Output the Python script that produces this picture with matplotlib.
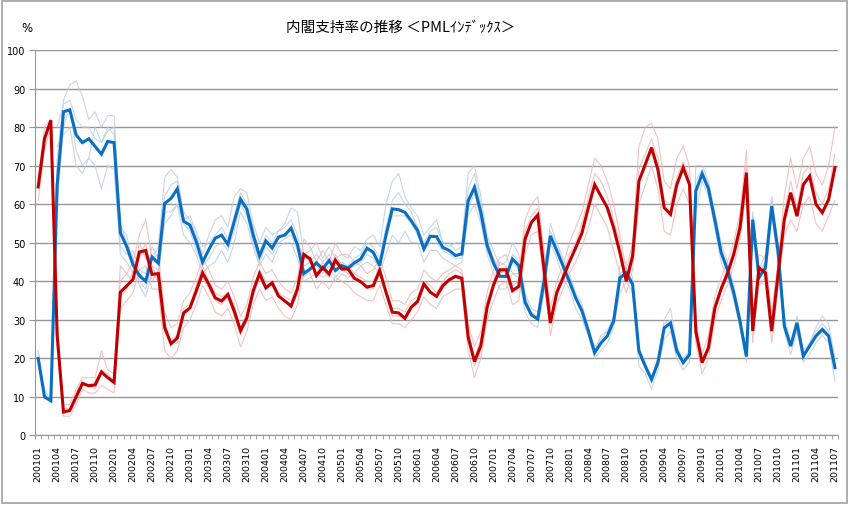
"""
Cabinet approval rating trend (PML index), Jan 2001 - Jul 2011.

Thick lines are the PML index (blue = support, red = non-support),
thin pale lines are the individual polls it is built from.
Saves the chart to out.png.
"""

import numpy as np
import matplotlib
matplotlib.use("Agg")           # headless
import matplotlib.pyplot as plt
from matplotlib.patches import Rectangle

# ---------------------------------------------------------------------------
# Data (monthly, 200101 .. 201107)
# ---------------------------------------------------------------------------

MONTHS = [f"{y}{m:02d}" for y in range(2001, 2012) for m in range(1, 13)][:127]

SUPPORT = [
    20, 10, 9, 65, 84, 84.5, 78, 76, 77, 75, 73, 76.3,
    76, 52.6, 49, 44.3, 41.5, 40, 46.3, 44.7, 60.2, 61.5, 64, 55.6,
    54.6, 50.3, 45, 48.3, 51.2, 52, 49.6, 55.5, 61.3, 58.7, 52, 46.6,
    50.5, 48.6, 51.5, 52, 53.8, 49.5, 42, 43.2, 44.8, 43.2, 45.4, 42.8,
    44.1, 43.4, 44.8, 45.8, 48.6, 47.5, 44.1, 51.9, 58.8, 58.6, 57.9, 55.7,
    53.2, 48.4, 51.7, 51.6, 48.8, 48, 46.7, 47.1, 60.9, 64.4, 57.9, 49.3,
    44.8, 41.3, 41.3, 45.8, 44.1, 34.6, 31.3, 30.2, 40, 51.8, 48, 44,
    40, 35.7, 32.3, 27.1, 21.5, 24, 25.8, 29.7, 40.9, 42.2, 39.2, 21.9,
    18, 14.5, 18.9, 27.9, 29.2, 21.9, 18.9, 21, 63.4, 67.9, 64, 56,
    47.5, 43, 37, 29.5, 20.5, 56, 41, 43.5, 59.5, 47.8, 28.4, 23.2,
    29.2, 20.6, 23.2, 25.8, 27.5, 25.8, 17.6,
]

NON_SUPPORT = [
    64.5, 77, 81.8, 26, 6.1, 6.5, 10, 13.5, 12.9, 13.1, 16.5, 15,
    13.8, 37.2, 38.8, 40.5, 47.6, 48, 41.8, 42, 28, 23.8, 25.3, 31.8,
    33.1, 37.5, 42.2, 39.2, 35.7, 34.9, 36.6, 32.3, 27.2, 30.5, 37.5, 42,
    38.3, 39.6, 36.2, 34.9, 33.6, 38, 47, 45.8, 41.5, 43.6, 41.9, 45.5,
    43.2, 43.2, 40.8, 39.9, 38.5, 38.9, 42.8, 37.2, 32, 31.8, 30.4, 33.3,
    34.8, 39.3, 37.2, 36.1, 38.9, 40.4, 41.3, 40.8, 25.5, 19.2, 23.3, 33.3,
    39, 43, 43, 37.6, 38.7, 51, 55.3, 57.2, 43, 29.2, 37, 40.9,
    45, 48.7, 52.6, 59.1, 65.1, 62.1, 59.1, 53.9, 47.4, 40, 46.5, 66,
    70.3, 74.7, 69, 59.1, 57.4, 65.1, 69.5, 65.1, 27, 18.9, 22.8, 33,
    38, 42, 47, 54, 68.2, 27.1, 43.5, 42.2, 27.1, 41.8, 56, 63,
    56.9, 65.1, 67.3, 60, 57.8, 61.2, 69.5,
]

# individual polls (approximate), None = no survey
POLL_SUPPORT_A = [
    22, 12, 9, 72, 87, 91, 92, 88, 82, 84, 80, 83,
    83, 55, 50, 46, 42, 40, 46, 49, 67, 69, 67, 58,
    56, 52, 47, 52, 56, 57, 54, 62, 64, 63, 55, 50,
    54, 52, 53, 55, 59, 58, 47, 48, 50, 46, 49, 46,
    47, 46, 49, 48, 51, 52, 49, 60, 66, 68, 62, 59,
    57, 52, 54, 56, 50, 49, 50, 50, 68, 70, 62, 52,
    48, 44, 45, 50, 47, 37, 33, 32, 44, 53, 50, 46,
    42, 37, 34, 28, 22, 26, 27, 31, 44, 45, 41, 23,
    19, 15, 20, 30, 33, 23, 20, 22, 70, 70, 66, 58,
    50, 45, 39, 31, 21, 58, 43, 47, 62, 50, 31, 24,
    31, 22, 24, 28, 31, 29, 20,
]
POLL_SUPPORT_B = [
    None, None, None, 60, 80, 85, 74, 70, 72, 70, 64, 70,
    69, 47, 45, 42, 39, 36, 42, 40, 58, 58, 60, 52,
    50, 47, 42, 44, 45, 48, 45, 50, 58, 55, 49, 44,
    47, 45, 49, 50, 50, 46, 40, 41, 42, 41, 42, 40,
    42, 41, 42, 44, 45, 44, 42, 47, 52, 50, 53, 50,
    50, 45, 48, 48, 46, 45, 44, 45, 57, 60, 55, 47,
    42, 38, 38, 42, 41, 32, 29, 28, 37, 50, 46, 41,
    38, 33, 30, 26, 20, 22, 24, 28, 37, 40, 37, 18,
    16, 12, 17, 25, 27, 20, 17, 19, 58, 66, 62, 54,
    45, 41, 35, 28, 19, 53, 39, 41, 57, 45, 27, 21,
    27, 19, 21, 24, 26, 24, 14,
]
POLL_SUPPORT_C = [
    None, None, None, 80, 86, 87, 82, 80, 80, 77, 76, 80,
    78, 49, 47, 48, 43, 42, 49, 46, 62, 65, 66, 56,
    57, 53, 49, 50, 52, 54, 51, 57, 63, 60, 54, 47,
    52, 50, 53, 54, 56, 52, 44, 45, 47, 45, 47, 44,
    45, 44, 46, 47, 50, 49, 46, 54, 61, 63, 60, 58,
    54, 50, 53, 54, 50, 50, 48, 49, 64, 68, 60, 51,
    46, 43, 42, 47, 45, 36, 32, 31, 41, 55, 50, 45,
    41, 36, 33, 28, 23, 25, 27, 30, 42, 43, 40, 22,
    18, 15, 19, 29, 30, 23, 19, 22, 66, 69, 65, 57,
    48, 44, 38, 30, 22, 57, 42, 45, 61, 49, 29, 24,
    30, 21, 24, 27, 29, 27, 18,
]
POLL_SUPPORT_D = [
    None, None, None, 75, 78, 80, 70, 68, 72, 80, 76, 79,
    80, 54, 52, 44, 40, 38, 44, 43, 55, 57, 60, 55,
    53, 48, 44, 46, 49, 50, 48, 53, 60, 57, 50, 45,
    49, 47, 50, 51, 52, 48, 41, 43, 44, 42, 44, 41,
    43, 43, 44, 45, 47, 46, 43, 52, 57, 57, 57, 55,
    52, 48, 50, 50, 48, 47, 46, 46, 59, 63, 56, 48,
    44, 41, 41, 45, 43, 34, 31, 30, 39, 52, 48, 44,
    40, 36, 32, 27, 22, 24, 26, 30, 41, 42, 40, 22,
    18, 14, 19, 28, 29, 22, 19, 21, 64, 68, 64, 56,
    47, 43, 37, 30, 21, 56, 41, 44, 59, 48, 29, 23,
    29, 21, 23, 26, 28, 26, 18,
]

POLL_NON_SUPPORT_A = [
    66, 80, 82, 28, 8, 8, 12, 15, 15, 15, 22, 17,
    16, 44, 42, 45, 52, 56, 46, 47, 32, 28, 29, 35,
    37, 41, 46, 43, 39, 38, 40, 36, 31, 34, 41, 45,
    42, 43, 40, 38, 37, 41, 51, 49, 45, 48, 45, 50,
    47, 47, 45, 44, 42, 43, 46, 41, 35, 35, 34, 37,
    38, 43, 41, 40, 42, 43, 44, 43, 29, 23, 27, 37,
    43, 46, 47, 42, 42, 56, 60, 62, 48, 33, 40, 44,
    50, 54, 58, 65, 72, 70, 66, 60, 52, 43, 50, 75,
    80, 81, 77, 66, 64, 72, 75, 70, 30, 21, 26, 36,
    41, 45, 50, 58, 74, 30, 47, 46, 32, 45, 62, 72,
    64, 72, 75, 68, 65, 70, 80,
]
POLL_NON_SUPPORT_B = [
    61, 74, 80, 24, 5, 5, 8, 12, 11, 11, 13, 12,
    11, 33, 35, 37, 43, 44, 38, 38, 22, 20, 22, 28,
    30, 34, 39, 36, 32, 31, 33, 29, 23, 27, 34, 38,
    35, 36, 33, 31, 30, 34, 43, 42, 38, 40, 38, 41,
    40, 39, 37, 36, 35, 35, 39, 34, 29, 29, 28, 30,
    32, 36, 34, 33, 36, 37, 38, 38, 22, 15, 20, 30,
    35, 39, 40, 34, 35, 47, 52, 53, 40, 26, 34, 38,
    42, 45, 49, 54, 60, 57, 54, 48, 42, 37, 43, 60,
    65, 70, 64, 53, 52, 60, 64, 60, 24, 16, 20, 30,
    35, 39, 44, 51, 64, 24, 40, 39, 24, 38, 52, 56,
    53, 60, 62, 55, 53, 57, 61,
]
POLL_NON_SUPPORT_C = [
    None, None, None, 30, 7, 7, 11, 14, 13, 14, 17, 16,
    14, 40, 42, 40, 50, 46, 44, 40, 27, 25, 26, 33,
    34, 39, 44, 40, 37, 36, 37, 34, 28, 32, 38, 43,
    40, 40, 37, 36, 35, 39, 46, 46, 42, 45, 42, 47,
    44, 44, 42, 41, 40, 40, 44, 38, 33, 33, 32, 35,
    36, 40, 39, 37, 40, 42, 43, 42, 27, 20, 25, 35,
    40, 45, 44, 39, 40, 53, 57, 59, 45, 30, 38, 42,
    47, 50, 55, 62, 68, 66, 62, 56, 50, 41, 48, 69,
    73, 77, 72, 61, 60, 67, 71, 67, 28, 20, 23, 34,
    39, 43, 48, 56, 70, 28, 44, 44, 28, 43, 58, 66,
    59, 68, 70, 63, 60, 64, 73,
]
POLL_NON_SUPPORT_D = [
    None, None, None, 25, 6, 6, 10, 13, 13, 12, 16, 15,
    13, 36, 38, 43, 46, 50, 40, 43, 30, 24, 24, 31,
    33, 37, 41, 38, 35, 34, 36, 31, 26, 30, 36, 41,
    38, 39, 36, 35, 33, 37, 47, 45, 41, 43, 41, 45,
    43, 42, 40, 40, 38, 38, 42, 37, 31, 31, 30, 33,
    34, 39, 37, 36, 38, 40, 41, 40, 25, 18, 22, 33,
    39, 42, 43, 37, 38, 50, 55, 57, 43, 29, 37, 40,
    45, 48, 52, 59, 65, 62, 59, 54, 47, 40, 46, 66,
    70, 74, 69, 59, 57, 65, 69, 65, 27, 19, 22, 33,
    38, 42, 47, 54, 68, 27, 43, 42, 27, 41, 56, 63,
    57, 65, 67, 60, 58, 61, 69,
]

TITLE = "内閣支持率の推移 ＜PMLｲﾝﾃﾞｯｸｽ＞"

BLUE       = "#0a6fc2"
RED        = "#c00000"
PALE_BLUE  = "#b8cce4"
PALE_RED   = "#f0b4b4"
GRID_GREY  = "#969696"


def main() -> None:
    plt.rcParams["font.family"] = ["DejaVu Sans", "Noto Sans CJK JP"]

    x = np.arange(len(MONTHS))

    fig = plt.figure(figsize=(8.5, 5.06), dpi=100)
    ax = fig.add_axes([0.0412, 0.1374, 0.9448, 0.7616])

    for poll in (POLL_SUPPORT_A, POLL_SUPPORT_B, POLL_SUPPORT_C, POLL_SUPPORT_D):
        ax.plot(x, np.array(poll, dtype=float), color=PALE_BLUE, lw=0.8, alpha=0.8, zorder=2)
    for poll in (POLL_NON_SUPPORT_A, POLL_NON_SUPPORT_B,
                 POLL_NON_SUPPORT_C, POLL_NON_SUPPORT_D):
        ax.plot(x, np.array(poll, dtype=float), color=PALE_RED, lw=0.8, alpha=0.8, zorder=2)

    ax.plot(x, SUPPORT, color=BLUE, lw=2.2, zorder=4, solid_joinstyle="miter")
    ax.plot(x, NON_SUPPORT, color=RED, lw=2.2, zorder=5, solid_joinstyle="miter")

    ax.set_xlim(-0.5, len(MONTHS) - 0.5)
    ax.set_ylim(0, 100)

    ax.set_yticks(np.arange(0, 101, 10))
    ax.yaxis.grid(True, color=GRID_GREY, lw=1.0)
    ax.set_axisbelow(True)
    ax.tick_params(axis="y", labelsize=7, length=4, color=GRID_GREY, pad=3)

    ax.set_xticks(x[::3])
    ax.set_xticklabels(MONTHS[::3], rotation=90, fontsize=6.8)
    ax.set_xticks(np.arange(-0.5, len(MONTHS)), minor=True)
    ax.tick_params(axis="x", which="major", length=0, pad=7)
    ax.tick_params(axis="x", which="minor", length=3, color=GRID_GREY)

    for side in ("top", "right"):
        ax.spines[side].set_visible(False)
    for side in ("left", "bottom"):
        ax.spines[side].set_color(GRID_GREY)

    fig.text(0.471, 0.945, TITLE, ha="center", va="center", fontsize=10.5,
             family=["Noto Sans CJK JP", "DejaVu Sans"])
    fig.text(0.032, 0.944, "%", ha="center", va="center", fontsize=8.5)

    fig.patches.append(Rectangle((0.002, 0.003), 0.995, 0.993, transform=fig.transFigure,
                                 fill=False, ec="#a0a0a0", lw=1.2))

    fig.savefig("out.png", dpi=100)
    plt.close(fig)


if __name__ == "__main__":
    main()
